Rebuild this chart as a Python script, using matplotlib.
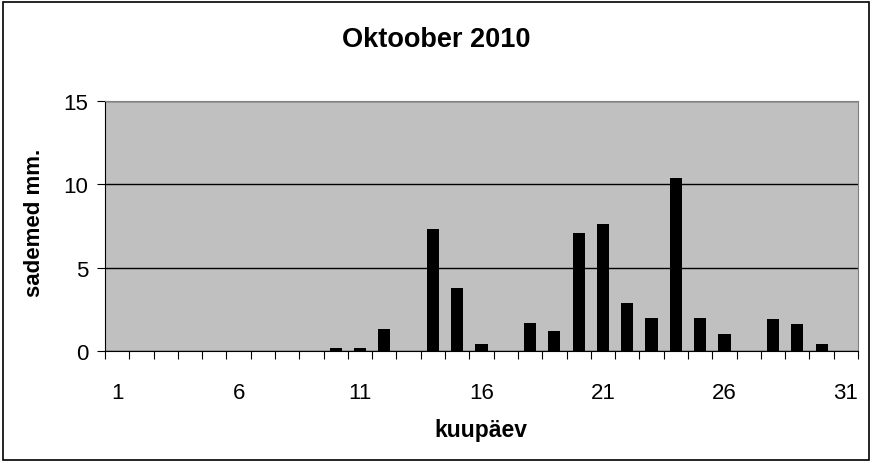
import numpy as np
import matplotlib.pyplot as plt
from matplotlib.patches import Rectangle

plt.rcParams['font.family'] = ['Liberation Sans', 'DejaVu Sans']

days = list(range(1, 32))
rain = [0, 0, 0, 0, 0, 0, 0, 0, 0, 0.2, 0.2, 1.3, 0, 7.3, 3.8, 0.4, 0,
        1.7, 1.2, 7.1, 7.6, 2.9, 2.0, 10.4, 2.0, 1.0, 0, 1.9, 1.6, 0.4, 0]
xlabels = ["1", "6", "11", "16", "21", "26", "31"]

fig = plt.figure(figsize=(8.72, 4.64), dpi=100)
fig.patches.append(Rectangle((0.004, 0.006), 0.992, 0.988, transform=fig.transFigure,
                             fill=False, edgecolor="black", linewidth=1.2))
ax = fig.add_axes([0.1204, 0.2414, 0.8636, 0.5386])
ax.set_facecolor("#c0c0c0")

x = np.arange(len(days))
ax.bar(x, rain, width=0.5, color="black", zorder=3)

ax.set_xlim(-0.5, len(days) - 0.5)
ax.set_ylim(0, 15)
ax.set_yticks([0, 5, 10, 15])
ax.grid(axis="y", color="black", linewidth=1, zorder=1)

# category boundaries as ticks, labels every 5th day
ax.set_xticks(np.arange(-0.5, len(days), 1))
ax.set_xticklabels([])
ax.set_xticks([0, 5, 10, 15, 20, 25, 30], minor=True)
ax.set_xticklabels(xlabels, minor=True)
ax.tick_params(axis="x", which="major", length=6, direction="out", color="black")
ax.tick_params(axis="x", which="minor", length=0, pad=22, labelsize=16)
ax.tick_params(axis="y", length=6, direction="out", labelsize=16, pad=6)

for s in ["top", "right"]:
    ax.spines[s].set_color("#808080")
ax.spines["left"].set_color("black")
ax.spines["bottom"].set_color("black")

fig.text(0.5, 0.914, "Oktoober 2010", fontsize=19.5, fontweight="bold",
         ha="center", va="center")
fig.text(0.551, 0.073, "kuupäev", fontsize=16.5, fontweight="bold",
         ha="center", va="center")
fig.text(0.040, 0.519, "sademed mm.", fontsize=16, fontweight="bold",
         ha="center", va="center", rotation=90)

fig.savefig("out.png", dpi=100)
